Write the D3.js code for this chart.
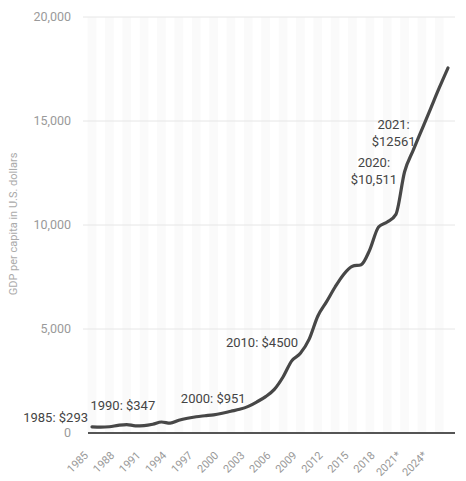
<!DOCTYPE html>
<html>
<head>
<meta charset="utf-8">
<script src="https://cdn.jsdelivr.net/npm/d3@7"></script>
<style>
  body { margin: 0; background: #fff; }
  svg { display: block; font-family: Roboto, "Open Sans", sans-serif; }
</style>
</head>
<body>
<svg id="chart" width="466" height="481"></svg>
<script>
// years on the x axis, 2021 onwards are forecasts
var years = d3.range(1985, 2027);
var gdpPerCapita = [293, 282, 301, 367, 406, 347, 358, 420, 529, 472,
  610, 709, 782, 829, 873, 951, 1047, 1141, 1281, 1498,
  1751, 2096, 2693, 3468, 3832, 4500, 5614, 6301, 7020, 7636,
  8016, 8094, 8817, 9905, 10144, 10511, 12561, 13600, 14600, 15600,
  16600, 17550];
var tickYears = [1985, 1988, 1991, 1994, 1997, 2000, 2003, 2006, 2009, 2012, 2015, 2018, 2021, 2024];
var yTicks = [0, 5000, 10000, 15000, 20000];
var firstForecast = 2021;

// callouts: year, label lines
var callouts = [
  {year: 1985, lines: ["1985: $293"]},
  {year: 1990, lines: ["1990: $347"]},
  {year: 2000, lines: ["2000: $951"]},
  {year: 2010, lines: ["2010: $4500"]},
  {year: 2020, lines: ["2020:", "$10,511"]},
  {year: 2021, lines: ["2021:", "$12561"]}
];

var svg = d3.select("#chart");
var x = d3.scaleLinear().domain([1985, 2026]).range([92, 448]);
var y = d3.scaleLinear().domain([0, 20000]).range([433, 17]);
var step = x(1986) - x(1985);

// faint alternating year columns
svg.append("g").selectAll("rect")
  .data(years.filter(function(d, i){ return i % 2 == 0; }))
  .enter().append("rect")
  .attr("x", function(d){ return x(d) - step / 2; })
  .attr("y", y(20000))
  .attr("width", step)
  .attr("height", y(0) - y(20000))
  .attr("fill", "#fafafa");

// horizontal grid
svg.append("g").selectAll("line")
  .data(yTicks.slice(1))
  .enter().append("line")
  .attr("x1", 83).attr("x2", 455)
  .attr("y1", function(d){ return y(d); })
  .attr("y2", function(d){ return y(d); })
  .attr("stroke", "#e6e6e6")
  .attr("stroke-width", 1);

// y tick labels
svg.append("g").selectAll("text")
  .data(yTicks)
  .enter().append("text")
  .attr("x", 71)
  .attr("y", function(d){ return y(d); })
  .attr("dy", "0.35em")
  .attr("text-anchor", "end")
  .attr("font-size", 12.5)
  .attr("fill", "#9a9a9a")
  .text(function(d){ return d3.format(",")(d); });

// y axis title
svg.append("text")
  .attr("transform", "translate(17,224) rotate(-90)")
  .attr("text-anchor", "middle")
  .attr("font-size", 11)
  .attr("fill", "#aaa")
  .text("GDP per capita in U.S. dollars");

// baseline
svg.append("line")
  .attr("x1", 88).attr("x2", 455)
  .attr("y1", y(0)).attr("y2", y(0))
  .attr("stroke", "#555")
  .attr("stroke-width", 2);

// x tick labels
svg.append("g").selectAll("text")
  .data(tickYears)
  .enter().append("text")
  .attr("transform", function(d){ return "translate(" + (x(d) - 3) + "," + (y(0) + 23) + ") rotate(-45)"; })
  .attr("text-anchor", "end")
  .attr("font-size", 11)
  .attr("fill", "#999")
  .text(function(d){ return d >= firstForecast ? d + "*" : d; });

// the line
var line = d3.line()
  .x(function(d, i){ return x(years[i]); })
  .y(function(d){ return y(d); })
  .curve(d3.curveMonotoneX);

svg.append("path")
  .attr("d", line(gdpPerCapita))
  .attr("fill", "none")
  .attr("stroke", "#474747")
  .attr("stroke-width", 3.2)
  .attr("stroke-linejoin", "round")
  .attr("stroke-linecap", "round");

// callout labels, offset by hand from their points
var offsets = {
  1985: {dx: -4, dy: -5, anchor: "end"},
  1990: {dx: -45, dy: -16, anchor: "start"},
  2000: {dx: -9, dy: -10, anchor: "middle"},
  2010: {dx: -11, dy: 8, anchor: "end"},
  2020: {dx: -22, dy: -47, anchor: "middle"},
  2021: {dx: -11, dy: -43, anchor: "middle"}
};
var cg = svg.append("g").attr("font-size", 13).attr("fill", "#444");
callouts.forEach(function(c){
  var i = years.indexOf(c.year);
  var o = offsets[c.year];
  var t = cg.append("text")
    .attr("x", x(c.year) + o.dx)
    .attr("y", y(gdpPerCapita[i]) + o.dy)
    .attr("text-anchor", o.anchor);
  c.lines.forEach(function(s, k){
    t.append("tspan")
      .attr("x", x(c.year) + o.dx)
      .attr("dy", k == 0 ? 0 : 17)
      .text(s);
  });
});
</script>
</body>
</html>
